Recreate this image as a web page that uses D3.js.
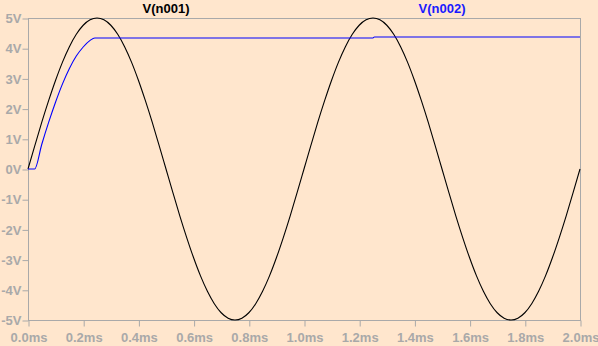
<!DOCTYPE html>
<html>
<head>
<meta charset="utf-8">
<script src="https://cdn.jsdelivr.net/npm/d3@7"></script>
<style>
  html, body { margin: 0; padding: 0; background: #ffe6cd; }
  svg { display: block; }
  .tick-label { font-family: "Liberation Sans", Arial, sans-serif; font-size: 13px; font-weight: bold; fill: #a9a9a9; }
  .legend { font-family: "Liberation Sans", Arial, sans-serif; font-size: 13px; font-weight: bold; }
</style>
</head>
<body>
<script>
// time grid (ms), read every 0.025 ms
const timeMs = [
  0.000, 0.025, 0.050, 0.075, 0.100, 0.125, 0.150, 0.175, 0.200, 0.225,
  0.250, 0.275, 0.300, 0.325, 0.350, 0.375, 0.400, 0.425, 0.450, 0.475,
  0.500, 0.525, 0.550, 0.575, 0.600, 0.625, 0.650, 0.675, 0.700, 0.725,
  0.750, 0.775, 0.800, 0.825, 0.850, 0.875, 0.900, 0.925, 0.950, 0.975,
  1.000, 1.025, 1.050, 1.075, 1.100, 1.125, 1.150, 1.175, 1.200, 1.225,
  1.250, 1.275, 1.300, 1.325, 1.350, 1.375, 1.400, 1.425, 1.450, 1.475,
  1.500, 1.525, 1.550, 1.575, 1.600, 1.625, 1.650, 1.675, 1.700, 1.725,
  1.750, 1.775, 1.800, 1.825, 1.850, 1.875, 1.900, 1.925, 1.950, 1.975,
  2.000
];

// V(n001), volts
const vN001 = [
  0.00, 0.78, 1.55, 2.27, 2.94, 3.54, 4.05, 4.46, 4.76, 4.94,
  5.00, 4.94, 4.76, 4.46, 4.05, 3.54, 2.94, 2.27, 1.55, 0.78,
  0.00, -0.78, -1.55, -2.27, -2.94, -3.54, -4.05, -4.46, -4.76, -4.94,
  -5.00, -4.94, -4.76, -4.46, -4.05, -3.54, -2.94, -2.27, -1.55, -0.78,
  0.00, 0.78, 1.55, 2.27, 2.94, 3.54, 4.05, 4.46, 4.76, 4.94,
  5.00, 4.94, 4.76, 4.46, 4.05, 3.54, 2.94, 2.27, 1.55, 0.78,
  0.00, -0.78, -1.55, -2.27, -2.94, -3.54, -4.05, -4.46, -4.76, -4.94,
  -5.00, -4.94, -4.76, -4.46, -4.05, -3.54, -2.94, -2.27, -1.55, -0.78,
  0.00
];

// V(n002), volts (diode output, holds near the peak)
const n002Time = [0.000, 0.024, 0.050, 0.075, 0.100, 0.125, 0.150, 0.175, 0.200, 0.225, 0.242, 1.250, 1.255, 2.000];
const vN002 = [0.00, 0.00, 0.82, 1.55, 2.22, 2.82, 3.33, 3.74, 4.04, 4.26, 4.34, 4.34, 4.37, 4.37];

const xTicks = [0.0, 0.2, 0.4, 0.6, 0.8, 1.0, 1.2, 1.4, 1.6, 1.8, 2.0];
const yTicks = [5, 4, 3, 2, 1, 0, -1, -2, -3, -4, -5];
const seriesNames = ['V(n001)', 'V(n002)'];

const width = 598, height = 346;
const padLeft = 28, padRight = 580, padTop = 18, padBottom = 320;

const svg = d3.select('body').append('svg')
    .attr('width', width)
    .attr('height', height);

svg.append('rect')
    .attr('width', width)
    .attr('height', height)
    .attr('fill', '#ffe6cd');

const x = d3.scaleLinear().domain([0, 2]).range([padLeft, padRight]);
const y = d3.scaleLinear().domain([-5, 5]).range([padBottom, padTop]);

const axisColor = '#a9a9a9';

// frame
svg.append('rect')
    .attr('x', padLeft + 0.5)
    .attr('y', padTop + 0.5)
    .attr('width', padRight - padLeft)
    .attr('height', padBottom - padTop)
    .attr('fill', 'none')
    .attr('stroke', axisColor)
    .attr('stroke-width', 1);

// x axis
const xAxis = svg.append('g')
    .attr('transform', `translate(0.5, ${padBottom + 0.5})`)
    .call(d3.axisBottom(x).tickValues(xTicks).tickSize(6).tickPadding(4)
      .tickFormat(d => d3.format('.1f')(d) + 'ms'));
xAxis.select('.domain').remove();
xAxis.selectAll('line').attr('stroke', axisColor);
xAxis.selectAll('text').attr('class', 'tick-label').attr('dy', '0.9em');

// y axis
const yAxis = svg.append('g')
    .attr('transform', `translate(${padLeft + 0.5}, 0.5)`)
    .call(d3.axisLeft(y).tickValues(yTicks).tickSize(6).tickPadding(1)
      .tickFormat(d => d + 'V'));
yAxis.select('.domain').remove();
yAxis.selectAll('line').attr('stroke', axisColor);
yAxis.selectAll('text').attr('class', 'tick-label');

// curves
const line = d3.line()
    .x(d => x(d[0]))
    .y(d => y(d[1]))
    .curve(d3.curveMonotoneX);

svg.append('path')
    .datum(timeMs.map((t, i) => [t, vN001[i]]))
    .attr('d', line)
    .attr('fill', 'none')
    .attr('stroke', '#000000')
    .attr('stroke-width', 1.1);

svg.append('path')
    .datum(n002Time.map((t, i) => [t, vN002[i]]))
    .attr('d', line)
    .attr('fill', 'none')
    .attr('stroke', '#0000ff')
    .attr('stroke-width', 1.1);

// legend
const legendX = [166, 442];
const legendColor = ['#000000', '#1a1aff'];
svg.selectAll('.legend')
  .data(seriesNames)
  .enter()
  .append('text')
    .attr('class', 'legend')
    .attr('x', (d, i) => legendX[i])
    .attr('y', 13)
    .attr('text-anchor', 'middle')
    .attr('fill', (d, i) => legendColor[i])
    .text(d => d);
</script>
</body>
</html>
